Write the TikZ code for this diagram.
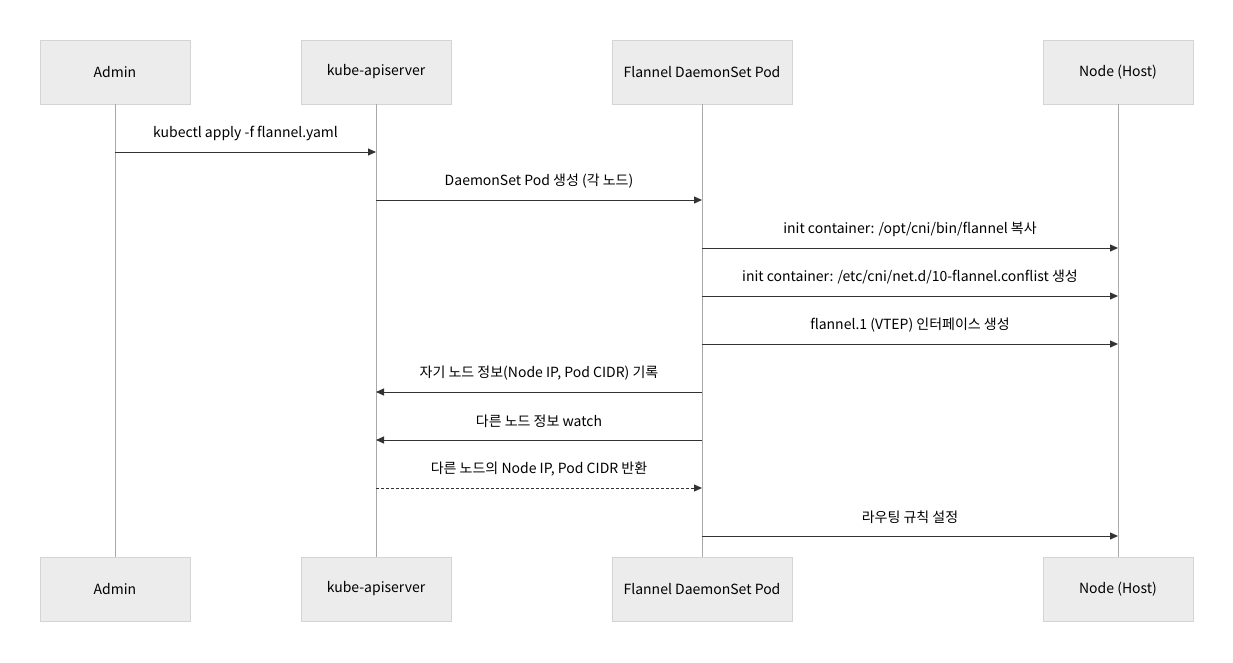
\documentclass[tikz,border=0pt]{standalone}
\usepackage{fontspec}
\setmainfont{Noto Sans CJK KR}
\usetikzlibrary{arrows.meta,calc}
\definecolor{boxfill}{HTML}{ECECEC}
\definecolor{boxline}{HTML}{D4D4D4}
\definecolor{lifeline}{HTML}{A8A8A8}
\definecolor{msg}{HTML}{333333}
\begin{document}
\begin{tikzpicture}[x=1pt,y=-1pt,
  actor/.style={draw=boxline,fill=boxfill,line width=0.8pt,minimum height=64pt,text=black,font=\fontsize{14}{16}\selectfont,inner sep=0pt},
  life/.style={draw=lifeline,line width=1pt},
  m/.style={draw=msg,line width=1pt,-{Triangle[length=8pt,width=7pt]}},
  md/.style={m,densely dashed},
  lbl/.style={font=\fontsize{14}{16}\selectfont,text=black}]
\useasboundingbox (0,0) rectangle (1233,662);
\foreach \n/\x/\w/\t in {a/115/150/Admin,k/376/150/kube-apiserver,f/702/180/Flannel DaemonSet Pod,h/1118/150/Node (Host)}{
  \node[actor,minimum width=\w pt] (\n t) at (\x,72) {\t};
  \node[actor,minimum width=\w pt] (\n b) at (\x,589) {\t};
  \draw[life] (\n t.south) -- (\n b.north);
}
\foreach \y/\s/\e/\t/\st in {
 152/a/k/{kubectl apply -f flannel.yaml}/m,
 200/k/f/{DaemonSet Pod 생성 (각 노드)}/m,
 248/f/h/{init container: /opt/cni/bin/flannel 복사}/m,
 296/f/h/{init container: /etc/cni/net.d/10-flannel.conflist 생성}/m,
 344/f/h/{flannel.1 (VTEP) 인터페이스 생성}/m,
 392/f/k/{자기 노드 정보(Node IP, Pod CIDR) 기록}/m,
 440/f/k/{다른 노드 정보 watch}/m,
 488/k/f/{다른 노드의 Node IP, Pod CIDR 반환}/md,
 536/f/h/{라우팅 규칙 설정}/m}{
  \coordinate (s) at (\s t.south |- 0,\y);
  \coordinate (e) at (\e t.south |- 0,\y);
  \draw[\st] (s) -- (e);
  \node[lbl] at ($(s)!0.5!(e)+(0,-19)$) {\t};
}
\end{tikzpicture}
\end{document}
